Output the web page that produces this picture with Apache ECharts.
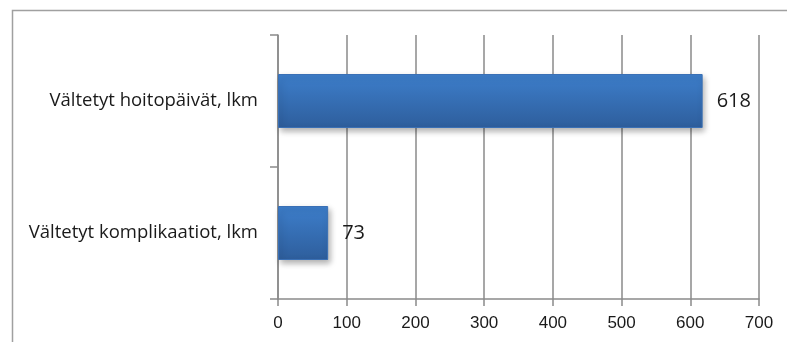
<!DOCTYPE html>
<html><head><meta charset="utf-8">
<script src="https://cdn.jsdelivr.net/npm/echarts@6/dist/echarts.min.js"></script>
<style>html,body{margin:0;padding:0;background:#fff}#c{width:787px;height:342px}</style>
</head><body><div id="c"></div>
<script>
const categories = ['Vältetyt hoitopäivät, lkm', 'Vältetyt komplikaatiot, lkm'];
const values = [618, 73];
const xTicks = [0, 100, 200, 300, 400, 500, 600, 700];

const chart = echarts.init(document.getElementById('c'), null, {renderer: 'canvas'});
chart.setOption({
  animation: false,
  graphic: [{
    type: 'rect', shape: {x: 12.5, y: 10.5, width: 800, height: 400},
    style: {fill: 'none', stroke: '#a0a0a0', lineWidth: 1.5}, silent: true
  }],
  grid: {left: 278, right: 28, top: 35, bottom: 43},
  xAxis: {
    type: 'value', min: xTicks[0], max: xTicks[xTicks.length - 1], interval: 100,
    axisLine: {show: true, lineStyle: {color: '#8a8a8a', width: 1.5}},
    axisTick: {show: true, length: 7, lineStyle: {color: '#8a8a8a', width: 1.5}},
    splitLine: {show: true, lineStyle: {color: '#8a8a8a', width: 1.5}},
    axisLabel: {margin: 16, color: '#1a1a1a', fontFamily: 'Liberation Sans', fontSize: 17}
  },
  yAxis: {
    type: 'category', data: categories, inverse: true,
    axisLine: {show: true, lineStyle: {color: '#8a8a8a', width: 1.5}},
    axisTick: {show: true, length: 8, lineStyle: {color: '#8a8a8a', width: 1.5}},
    axisLabel: {margin: 20, color: '#1a1a1a', fontFamily: 'Open Sans', fontSize: 18.5}
  },
  series: [{
    type: 'bar', data: values, barWidth: 54,
    itemStyle: {
      color: new echarts.graphic.LinearGradient(0, 0, 0, 1, [
        {offset: 0, color: '#3d7ecb'}, {offset: 1, color: '#2e5e9c'}
      ]),
      borderColor: '#3a70b5', borderWidth: 1,
      shadowColor: 'rgba(0,0,0,0.3)', shadowBlur: 6, shadowOffsetX: 2, shadowOffsetY: 3
    },
    label: {show: true, position: 'right', distance: 14, color: '#1a1a1a',
      fontFamily: 'Open Sans', fontSize: 20}
  }]
});
</script></body></html>
